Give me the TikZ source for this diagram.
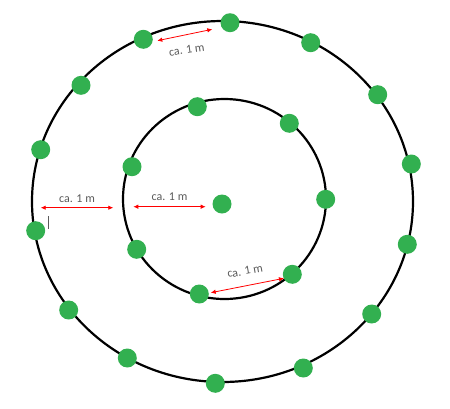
\documentclass[tikz,border=0pt]{standalone}
\usepackage{fontspec}
\setsansfont{Carlito}
\usetikzlibrary{arrows.meta}
\definecolor{treegreen}{RGB}{50,176,80}
\definecolor{labelgray}{RGB}{90,90,90}

\begin{document}
\begin{tikzpicture}[x=1pt, y=-1pt,
    tree/.style={circle, fill=treegreen, minimum size=19pt, inner sep=0pt},
    dist/.style={red, line width=0.8pt, {Latex[length=5pt,width=4.5pt]}-{Latex[length=5pt,width=4.5pt]}},
    lbl/.style={font=\sffamily\fontsize{12}{13}\selectfont, text=labelgray, inner sep=1pt}]
    \useasboundingbox (0,0) rectangle (450,408);
    \draw[line width=2.2pt] (222.5,201.5) ellipse [x radius=190.5, y radius=180.5];
    \draw[line width=2.2pt] (224.5,199) ellipse [x radius=101.5, y radius=100];
    % outer ring
    \foreach \p [count=\i] in {(143.3,39.3), (230,22.7), (310.7,42.7), (377.7,94.7),
        (411.3,164), (407.3,244.3), (371.7,314), (303.3,368), (215.3,383.3),
        (127.3,358), (68.7,310), (35.7,230.7), (40.7,149.7), (81,85.3)}
        \node[tree] (o\i) at \p {};
    % inner ring
    \foreach \p [count=\i] in {(197.3,106.7), (289.3,123.3), (325.7,199.3), (292.3,274.3),
        (199.3,294), (136.7,249.3), (132,166.7)}
        \node[tree] (i\i) at \p {};
    \node[tree] (c) at (222,204) {};
    % distances
    \coordinate (a1) at (157.3,40.7);
    \coordinate (a2) at (212.3,29.3);
    \draw[dist] (a1) -- (a2);
    \node[lbl, rotate=8] at (186.7,50) {ca. 1 m};
    \coordinate (b1) at (40.7,207.7);
    \coordinate (b2) at (113.3,207.7);
    \draw[dist] (b1) -- (b2) node[lbl, midway, above=4pt] {ca. 1 m};
    \coordinate (b3) at (133.3,206.7);
    \coordinate (b4) at (205.7,206.7);
    \draw[dist] (b3) -- (b4) node[lbl, midway, above=5pt] {ca. 1 m};
    \coordinate (d1) at (210.7,292.7);
    \coordinate (d2) at (284,278.3);
    \draw[dist] (d1) -- (d2);
    \node[lbl, rotate=10] at (245,271) {ca. 1 m};
    \draw[labelgray, line width=0.7pt] (48.3,216) -- (48.3,229);
\end{tikzpicture}
\end{document}
